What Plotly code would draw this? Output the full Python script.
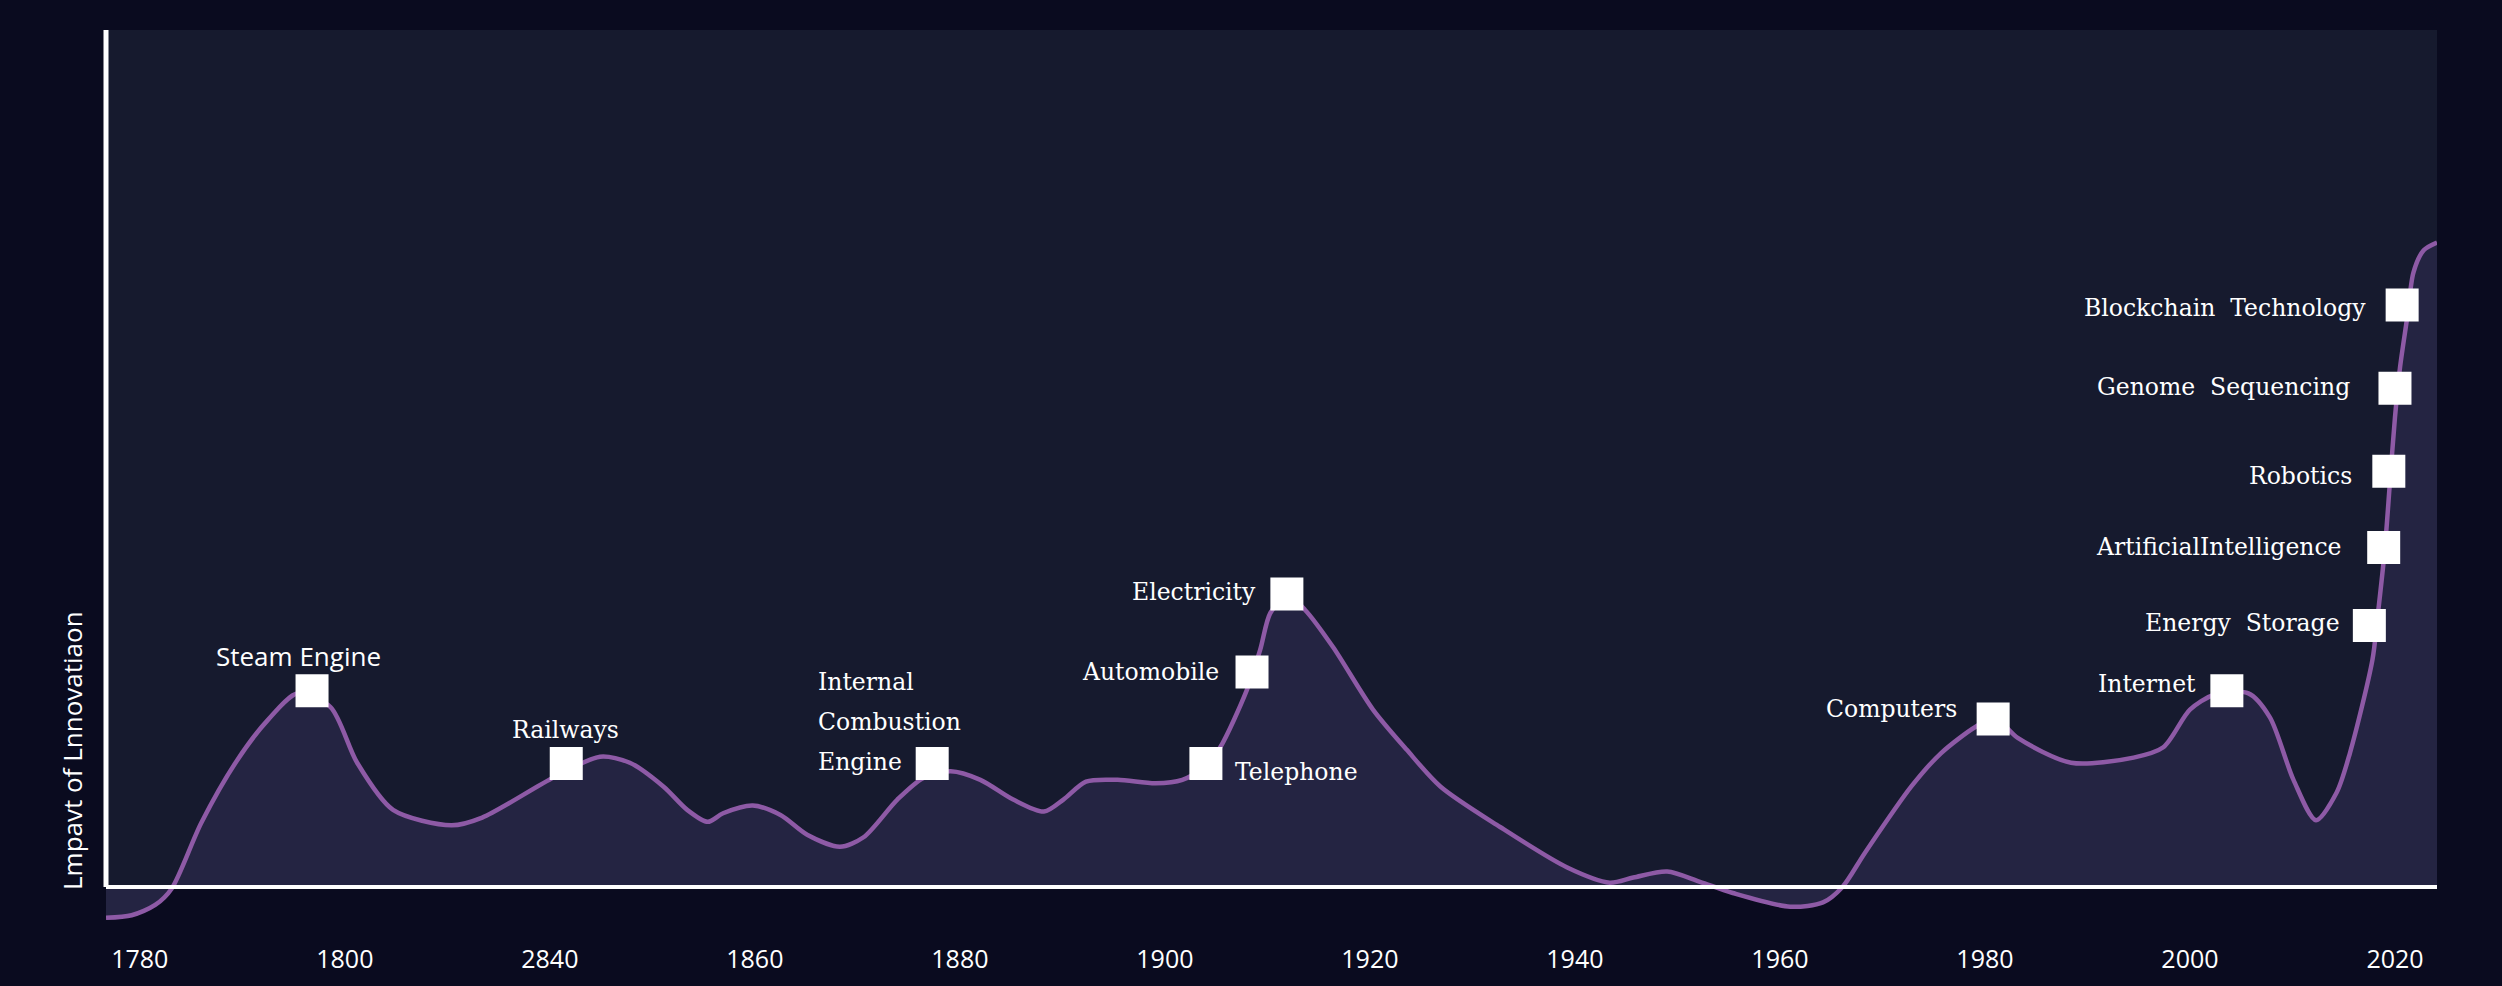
"""
Innovation impact curve, 1780-2020, with key inventions marked on it.
"""

from __future__ import annotations

import plotly.graph_objects as go


# --- Data ---

years = [
    1796.7, 1799.2, 1801.5, 1803.1, 1806.0, 1809.5, 1812.5, 1815.4, 1818.6, 1821.2,
    1824.7, 1830.4, 1833.4, 1840.4, 1844.9, 1847.8, 1851.1, 1853.4, 1855.4, 1856.9,
    1859.8, 1862.5, 1865.1, 1868.3, 1870.6, 1873.9, 1876.4, 1879.1, 1882.0, 1885.2,
    1888.2, 1890.1, 1892.3, 1895.4, 1899.1, 1901.7, 1903.9, 1905.4, 1908.0, 1909.3,
    1910.3, 1912.0, 1913.7, 1916.4, 1920.3, 1923.6, 1926.9, 1932.7, 1939.2, 1943.4,
    1945.7, 1949.0, 1952.2, 1955.4, 1961.0, 1964.2, 1966.1, 1968.3, 1972.8, 1975.7,
    1979.1, 1981.0, 1983.2, 1988.4, 1994.5, 1997.4, 2000.0, 2002.3, 2005.7, 2007.8,
    2010.1, 2012.3, 2014.3, 2015.6, 2017.8, 2018.3, 2019.0, 2019.5, 2020.0, 2020.5,
    2021.2, 2021.8, 2022.8, 2024.1,
]
impact = [
    -3.6, -3.3, -2.1, -0.2, 7.5, 14.8, 19.5, 22.6, 21.0, 14.5,
    9.0, 7.2, 8.1, 12.8, 15.2, 14.5, 11.7, 9.0, 7.6, 8.6,
    9.5, 8.4, 6.1, 4.7, 5.8, 10.2, 12.7, 13.5, 12.5, 10.2,
    8.8, 10.2, 12.3, 12.5, 12.1, 12.5, 14.0, 16.3, 23.0, 27.7,
    32.0, 34.0, 32.3, 28.0, 20.7, 16.0, 11.7, 7.0, 2.3, 0.5,
    1.1, 1.8, 0.6, -0.7, -2.3, -1.8, 0.0, 4.0, 11.7, 15.6,
    18.7, 19.7, 17.4, 14.5, 15.1, 16.3, 20.7, 22.4, 22.6, 19.8,
    12.5, 7.8, 11.0, 15.6, 26.5, 31.5, 39.3, 47.1, 54.8, 60.7,
    66.5, 71.7, 74.3, 75.2,
]

inventions = [
    "Steam Engine", "Railways", "Internal Combustion Engine", "Telephone",
    "Automobile", "Electricity", "Computers", "Internet", "Energy  Storage",
    "ArtificialIntelligence", "Robotics", "Genome  Sequencing", "Blockchain  Technology",
]
invention_years = [
    1816.8, 1841.6, 1877.3, 1904.0, 1908.5, 1911.9, 1980.8, 2003.6, 2017.5,
    2018.9, 2019.4, 2020.0, 2020.7,
]
invention_impact = [
    22.9, 14.4, 14.4, 14.4, 25.1, 34.2, 19.6, 22.9, 30.5,
    39.6, 48.5, 58.2, 67.9,
]

tick_years = [1800, 1820, 1840, 1860, 1880, 1900, 1920, 1940, 1960, 1980, 2000, 2020]
tick_labels = ["1780", "1800", "2840", "1860", "1880", "1900", "1920", "1940", "1960", "1980", "2000", "2020"]

y_title = "Lmpavt of Lnnovatiaon"


# --- Styling ---

PAPER = "#0a0b1f"
PANEL = "#161a2e"
FILL = "#242442"
LINE = "#8e5aa6"
SERIF = "DejaVu Serif"
SANS = "Open Sans"

X_RANGE = [1796.7, 2024.1]
Y_RANGE = [-5.02, 100]

# label placement relative to each marker: (xanchor, xshift, yshift)
label_offsets = {
    "Steam Engine": ("center", -14, 35),
    "Railways": ("center", -1, 34),
    "Telephone": ("left", 27, -8),
    "Automobile": ("right", -31, 0),
    "Electricity": ("right", -29, 2),
    "Computers": ("right", -34, 10),
    "Internet": ("right", -29, 7),
    "Energy  Storage": ("right", -27, 3),
    "ArtificialIntelligence": ("right", -40, 1),
    "Robotics": ("right", -35, -5),
    "Genome  Sequencing": ("right", -43, 1),
    "Blockchain  Technology": ("right", -34, -3),
}


def label_annotations() -> list[dict]:
    annotations = []
    for name, x_value, y_value in zip(inventions, invention_years, invention_impact):
        if name == "Internal Combustion Engine":
            # stacked words, left aligned, last line level with the marker
            for line_index, word in enumerate(reversed(name.split())):
                annotations.append(dict(
                    x=x_value, y=y_value, xref="x", yref="y",
                    text=word, showarrow=False,
                    xanchor="left", yanchor="middle",
                    xshift=-116, yshift=2 + 40 * line_index,
                    font=dict(family=SERIF, size=23.5, color="white"),
                ))
            continue

        xanchor, xshift, yshift = label_offsets[name]
        is_sans = name == "Steam Engine"
        annotations.append(dict(
            x=x_value, y=y_value, xref="x", yref="y",
            text=name.replace("  ", "\u00a0 "), showarrow=False,
            xanchor=xanchor, yanchor="middle",
            xshift=xshift, yshift=yshift,
            font=dict(family=SANS if is_sans else SERIF, size=26 if is_sans else 23.5, color="white"),
        ))

    annotations.append(dict(
        x=-0.0146, y=0.2, xref="paper", yref="paper",
        text=y_title, textangle=-90, showarrow=False,
        xanchor="center", yanchor="middle",
        font=dict(family=SANS, size=26, color="white"),
    ))
    return annotations


def build_figure() -> go.Figure:
    fig = go.Figure()

    fig.add_trace(go.Scatter(
        x=years, y=impact,
        mode="lines",
        line=dict(color=LINE, width=4.5, shape="spline", smoothing=0.8),
        fill="tozeroy", fillcolor=FILL,
        showlegend=False, hoverinfo="skip",
    ))

    fig.add_trace(go.Scatter(
        x=invention_years, y=invention_impact,
        mode="markers",
        marker=dict(symbol="square", size=33, color="white", line=dict(width=0)),
        text=inventions,
        showlegend=False,
    ))

    shapes = [
        # lighter panel only above the zero line
        dict(type="rect", xref="paper", yref="y", x0=0, x1=1, y0=0, y1=Y_RANGE[1],
             fillcolor=PANEL, line=dict(width=0), layer="below"),
        # axis lines drawn by hand so they stop at zero
        dict(type="line", xref="paper", yref="y", x0=0, x1=1, y0=0, y1=0,
             line=dict(color="white", width=4), layer="above"),
        dict(type="line", xref="paper", yref="y", x0=0, x1=0, y0=0, y1=Y_RANGE[1],
             line=dict(color="white", width=5), layer="above"),
    ]

    fig.update_layout(
        width=2502,
        height=986,
        paper_bgcolor=PAPER,
        plot_bgcolor=PAPER,
        margin=dict(l=106, r=65, t=30, b=56),
        shapes=shapes,
        annotations=label_annotations(),
        xaxis=dict(
            range=X_RANGE,
            tickvals=tick_years,
            ticktext=tick_labels,
            ticks="outside", ticklen=7, tickcolor="rgba(0,0,0,0)",
            tickfont=dict(family=SANS, size=25, color="white"),
            showgrid=False, zeroline=False, showline=False,
            automargin=False,
        ),
        yaxis=dict(
            range=Y_RANGE,
            showticklabels=False, showgrid=False, zeroline=False, showline=False,
            automargin=False,
        ),
    )
    return fig


if __name__ == "__main__":
    fig = build_figure()
    # the page's default body margin would shift the chart, so drop it
    fig.write_html(
        "out.html",
        config={"displayModeBar": False},
        post_script="document.body.style.margin = '0';",
    )
